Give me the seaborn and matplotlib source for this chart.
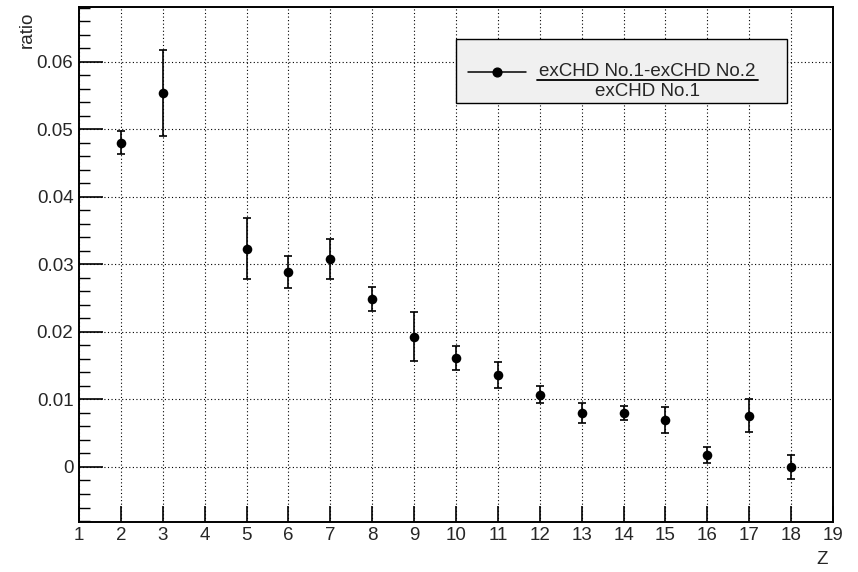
import numpy as np
import pandas as pd
import matplotlib
matplotlib.use("Agg")
import matplotlib.pyplot as plt
from matplotlib.lines import Line2D
from matplotlib.patches import Rectangle
from matplotlib.ticker import MultipleLocator, FixedLocator
import seaborn as sns

# Charge Z and relative difference between the two exCHD measurements
z_values = [2, 3, 5, 6, 7, 8, 9, 10, 11, 12, 13, 14, 15, 16, 17, 18]
ratio = [0.0480, 0.0554, 0.0323, 0.0289, 0.0308, 0.0249, 0.0193, 0.0161,
         0.0136, 0.0107, 0.0080, 0.0080, 0.0070, 0.0018, 0.0076, 0.0000]
ratio_err = [0.0017, 0.0064, 0.0045, 0.0024, 0.0029, 0.0018, 0.0036, 0.0018,
             0.0019, 0.0013, 0.0015, 0.0010, 0.0019, 0.0012, 0.0024, 0.0018]
x_ticks = list(range(1, 20))
y_ticks = [0.0, 0.01, 0.02, 0.03, 0.04, 0.05, 0.06]
y_tick_labels = ["0", "0.01", "0.02", "0.03", "0.04", "0.05", "0.06"]

df = pd.DataFrame({"Z": z_values, "ratio": ratio, "err": ratio_err})

sns.set_theme(style="white")
plt.rcParams["font.family"] = ["Liberation Sans", "DejaVu Sans"]
FS = 13.5

W, H = 858, 572
fig = plt.figure(figsize=(W / 100, H / 100), dpi=100)
ax = fig.add_axes([79 / W, 1 - 521.7 / H, (833 - 79) / W, (521.7 - 7) / H])
ax.set_facecolor("white")

def fpos(x, y):
    return x / W, 1 - y / H

# error bars and markers
ax.errorbar(df["Z"], df["ratio"], yerr=df["err"], fmt="none",
            ecolor="black", elinewidth=1.2, capsize=2.6, capthick=1.2, zorder=3)
sns.scatterplot(data=df, x="Z", y="ratio", ax=ax, color="black", s=48,
                edgecolor="black", linewidth=0, zorder=4, legend=False)

ax.set_xlim(1, 19)
ax.set_ylim(-0.0081, 0.0681)
ax.xaxis.set_major_locator(FixedLocator(x_ticks))
ax.set_xticklabels([str(t) for t in x_ticks])
ax.yaxis.set_major_locator(FixedLocator(y_ticks))
ax.set_yticklabels(y_tick_labels)
ax.yaxis.set_minor_locator(MultipleLocator(0.002))

ax.grid(True, which="major", color="black", linestyle=(0, (1, 2.2)), linewidth=0.8)
ax.set_axisbelow(True)

for sp in ax.spines.values():
    sp.set_color("black")
    sp.set_linewidth(1.4)

ax.tick_params(axis="x", which="major", direction="in", length=11.5, width=1.2,
               color="black", labelsize=FS, pad=4, bottom=True, top=False)
ax.tick_params(axis="y", which="major", direction="in", length=17, width=1.2,
               color="black", labelsize=FS, pad=4, left=True, right=False)
ax.tick_params(axis="y", which="minor", direction="in", length=8, width=1.0,
               color="black", left=True, right=False)
ax.tick_params(axis="x", which="minor", bottom=False, top=False)

ax.set_xlabel("")
ax.set_ylabel("")
fig.text(*fpos(27, 12), "ratio", rotation=90, ha="center", va="top", fontsize=FS)
fig.text(*fpos(828, 559), "Z", ha="right", va="center", fontsize=FS)

# legend box with a fraction-style label
lx0, ly0 = fpos(456, 103.3)
lx1, ly1 = fpos(786.7, 39.3)
fig.patches.append(Rectangle((lx0, ly0), lx1 - lx0, ly1 - ly0, transform=fig.transFigure,
                             facecolor="#f0f0f0", edgecolor="black", linewidth=1.0, zorder=5))
mx0, my = fpos(468, 71.5)
mx1, _ = fpos(526, 71.5)
mxc, _ = fpos(497, 71.5)
fig.lines.append(Line2D([mx0, mx1], [my, my], transform=fig.transFigure,
                        color="black", linewidth=1.1, zorder=6))
fig.lines.append(Line2D([mxc], [my], transform=fig.transFigure, marker="o",
                        markersize=6.3, color="black", zorder=7))
fig.text(*fpos(647, 71), "exCHD No.1-exCHD No.2", ha="center", va="center",
         fontsize=FS, zorder=7)
bx0, by = fpos(536.7, 80)
bx1, _ = fpos(758.3, 80)
fig.lines.append(Line2D([bx0, bx1], [by, by], transform=fig.transFigure,
                        color="black", linewidth=1.3, zorder=7))
fig.text(*fpos(647.5, 91.5), "exCHD No.1", ha="center", va="center",
         fontsize=FS, zorder=7)

fig.savefig("out.png", dpi=100, facecolor="white")
